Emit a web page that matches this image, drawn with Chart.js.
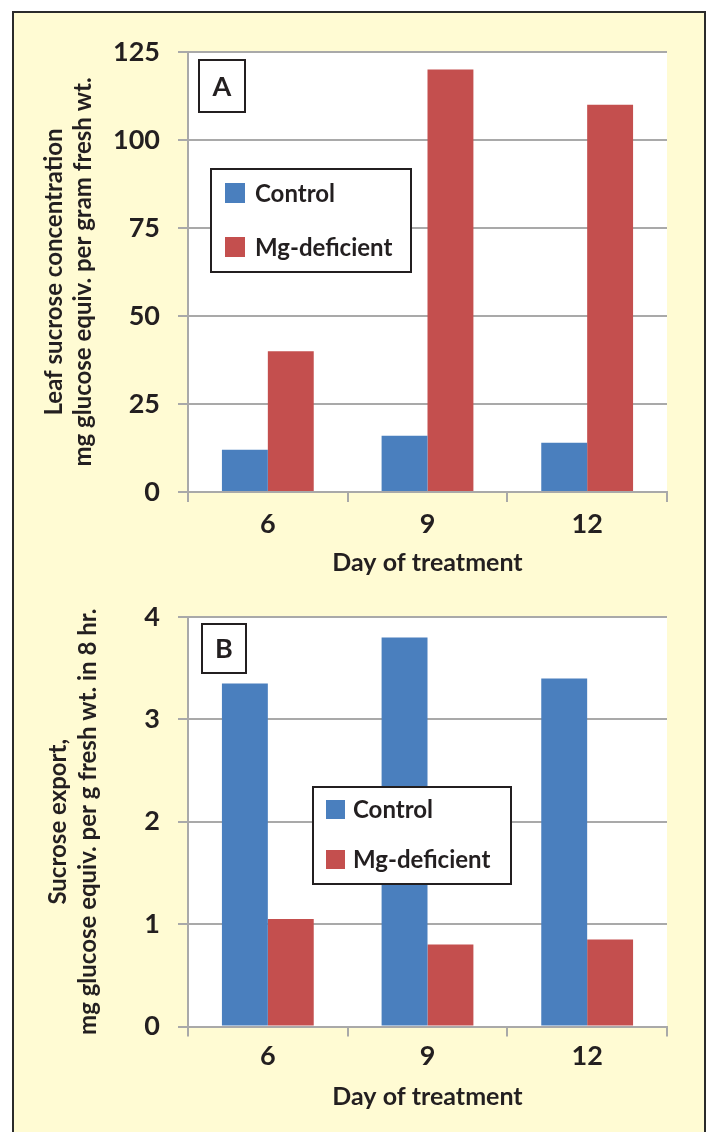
<!DOCTYPE html>
<html>
<head>
<meta charset="utf-8">
<script src="https://cdn.jsdelivr.net/npm/chart.js@4.4.1/dist/chart.umd.min.js"></script>
<style>
  html, body { margin: 0; padding: 0; background: #fff; width: 709px; height: 1132px; overflow: hidden; }
  #frame {
    position: absolute; left: 12px; top: 11px; width: 694px; height: 1200px;
    background: #FFFBD3; border: 2px solid #2b2b2b; box-sizing: border-box;
  }
  canvas { position: absolute; left: 0; }
  #chartA { top: 0; }
  #chartB { top: 580px; }
</style>
</head>
<body>
<div id="frame"></div>
<canvas id="chartA" width="709" height="580"></canvas>
<canvas id="chartB" width="709" height="552"></canvas>
<script>
const DAYS = ['6', '9', '12'];

const SUCROSE_CONTROL = [12, 16, 14];
const SUCROSE_MG = [40, 120, 110];

const EXPORT_CONTROL = [3.35, 3.8, 3.4];
const EXPORT_MG = [1.05, 0.8, 0.85];

const SERIES_NAMES = ['Control', 'Mg-deficient'];

const BLUE = '#4A7FBE';
const RED = '#C44F4E';
const GRID = '#A9A9A9';
const INK = '#231F20';
const FONT = 'Lato, "Open Sans", sans-serif';

Chart.defaults.font.family = FONT;
Chart.defaults.font.weight = 'bold';
Chart.defaults.color = INK;

// white plot area + letter tag + boxed legend
const decorPlugin = {
  id: 'decor',
  beforeDraw(c) {
    const { ctx, chartArea: a } = c;
    ctx.save();
    ctx.fillStyle = '#fff';
    ctx.fillRect(a.left, a.top, a.right - a.left, a.bottom - a.top);
    ctx.restore();
  },
  afterDraw(c, _args, o) {
    const { ctx } = c;
    ctx.save();
    // letter
    const t = o.tag;
    ctx.fillStyle = '#fff';
    ctx.fillRect(t.x, t.y, t.w, t.h);
    ctx.strokeStyle = INK;
    ctx.lineWidth = 2;
    ctx.strokeRect(t.x, t.y, t.w, t.h);
    ctx.fillStyle = INK;
    ctx.font = `bold 27px ${FONT}`;
    ctx.textAlign = 'center';
    ctx.textBaseline = 'middle';
    ctx.fillText(t.text, t.x + t.w / 2, t.y + t.h / 2 + 1);

    // legend
    const L = o.legend;
    ctx.fillStyle = '#fff';
    ctx.fillRect(L.x, L.y, L.w, L.h);
    ctx.strokeRect(L.x, L.y, L.w, L.h);
    ctx.font = `bold 24px ${FONT}`;
    ctx.textAlign = 'left';
    c.data.datasets.forEach((ds, i) => {
      const sy = L.y + L.first + i * L.step;
      ctx.fillStyle = ds.backgroundColor;
      ctx.fillRect(L.x + L.sx, sy, L.sw, L.sw);
      ctx.fillStyle = INK;
      ctx.fillText(ds.label, L.x + L.tx, sy + L.sw / 2 + 1);
    });
    ctx.restore();
  }
};

function makeChart(id, control, mg, cfg) {
  return new Chart(document.getElementById(id), {
    type: 'bar',
    data: {
      labels: DAYS,
      datasets: [
        { label: SERIES_NAMES[0], data: control, backgroundColor: BLUE, borderWidth: 0 },
        { label: SERIES_NAMES[1], data: mg, backgroundColor: RED, borderWidth: 0 }
      ]
    },
    options: {
      responsive: false,
      animation: false,
      layout: { padding: { top: cfg.padTop, right: 42, left: 0, bottom: 0 } },
      datasets: { bar: { categoryPercentage: 0.575, barPercentage: 1.0 } },
      plugins: {
        legend: { display: false },
        tooltip: { enabled: false },
        decor: { tag: cfg.tag, legend: cfg.legend }
      },
      scales: {
        x: {
          afterFit: (s) => { s.height = cfg.xHeight; },
          grid: { offset: true, drawOnChartArea: false, color: GRID, lineWidth: 2, tickLength: 10 },
          border: { color: GRID, width: 2 },
          ticks: { font: { size: 27 }, padding: cfg.xTickPad, color: INK },
          title: {
            display: true, text: 'Day of treatment', color: INK,
            font: { size: 25 }, padding: { top: 0, bottom: cfg.xTitlePad }
          }
        },
        y: {
          afterFit: (s) => { s.width = 188; },
          min: 0, max: cfg.max,
          grid: { color: GRID, lineWidth: 2, tickLength: 10 },
          border: { color: GRID, width: 2 },
          ticks: { stepSize: cfg.step, font: { size: 27 }, padding: 18, color: INK },
          title: {
            display: true, text: cfg.yTitle, color: INK,
            font: { size: 24, lineHeight: cfg.yLine }, padding: { top: cfg.yTitlePad, bottom: 0 }
          }
        }
      }
    },
    plugins: [decorPlugin]
  });
}

makeChart('chartA', SUCROSE_CONTROL, SUCROSE_MG, {
  padTop: 52, xHeight: 88, xTickPad: 6, xTitlePad: 2, max: 125, step: 25,
  yTitle: ['Leaf sucrose concentration', 'mg glucose equiv. per gram fresh wt.'],
  yLine: 1.2, yTitlePad: 40,
  tag: { x: 199, y: 60, w: 46, h: 52, text: 'A' },
  legend: { x: 211, y: 169, w: 200, h: 103, sx: 14, sw: 20, tx: 44, first: 14, step: 54 }
});

makeChart('chartB', EXPORT_CONTROL, EXPORT_MG, {
  padTop: 37, xHeight: 105.5, xTickPad: 4, xTitlePad: 20, max: 4, step: 1,
  yTitle: ['Sucrose export,', 'mg glucose equiv. per g fresh wt. in 8 hr.'],
  yLine: 1.25, yTitlePad: 43,
  tag: { x: 202, y: 44, w: 44, h: 49, text: 'B' },
  legend: { x: 313, y: 207, w: 198, h: 97, sx: 13, sw: 19, tx: 40, first: 13, step: 50 }
});
</script>
</body>
</html>
